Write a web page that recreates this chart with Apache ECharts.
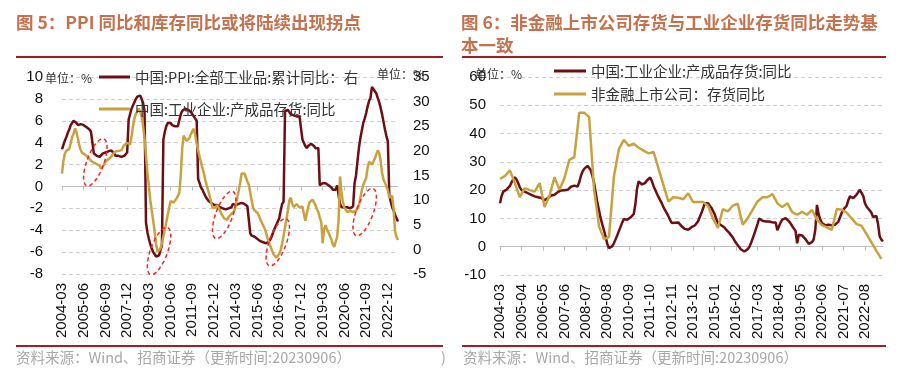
<!DOCTYPE html>
<html><head><meta charset="utf-8">
<script src="https://cdn.jsdelivr.net/npm/echarts@6/dist/echarts.min.js"></script>
<style>html,body{margin:0;padding:0;background:#fff}#c{width:907px;height:372px}</style>
</head><body><div id="c"></div>
<script>
// ---------- categories ----------
const startYear = 2004, startMonth = 3, monthCount = 233; // 2004-03 .. 2023-07
const months = [];
for (let k = 0; k < monthCount; k++) {
  const t = (startMonth - 1) + k;
  const y = startYear + Math.floor(t / 12), m = (t % 12) + 1;
  months.push(y + '-' + (m < 10 ? '0' + m : m));
}

// ---------- series values ----------
// 中国:PPI:全部工业品:累计同比 (%), monthly
const ppiCumYoY = [
  3.4,3.8,4.2,4.5,4.9,5.2,5.6,5.8,6.0,6.1,
  5.8,5.6,5.6,5.7,5.7,5.6,5.5,5.4,5.3,5.2,5.0,4.9,
  3.0,2.9,2.8,2.7,2.7,2.8,3.0,3.1,3.1,3.2,3.2,3.2,
  3.3,3.3,3.0,2.8,2.8,2.8,2.7,2.7,2.7,2.8,2.9,3.1,
  6.1,6.6,7.1,7.4,7.7,8.0,8.2,8.3,8.3,8.0,7.6,6.9,
  -3.3,-4.2,-4.8,-5.3,-5.7,-6.0,-6.2,-6.4,-6.4,-6.3,-5.8,-5.4,
  4.3,5.0,5.5,5.8,5.9,5.8,5.6,5.5,5.5,5.5,5.5,5.5,
  6.6,6.9,7.0,7.1,7.0,7.0,6.9,6.8,6.6,6.4,6.2,6.0,
  0.7,0.3,-0.1,-0.3,-0.6,-0.9,-1.1,-1.3,-1.4,-1.5,-1.6,-1.7,
  -1.6,-1.7,-1.8,-1.9,-1.9,-2.0,-2.1,-2.1,-2.0,-2.0,-1.9,-1.9,
  -1.6,-1.6,-1.7,-1.7,-1.6,-1.5,-1.5,-1.5,-1.6,-1.7,-1.8,-1.9,
  -4.3,-4.5,-4.6,-4.6,-4.7,-4.8,-4.9,-5.0,-5.1,-5.1,-5.2,-5.2,
  -5.3,-5.0,-4.8,-4.5,-4.1,-3.8,-3.5,-3.2,-2.9,-2.2,-1.6,-1.4,
  6.9,7.0,7.0,6.9,6.6,6.5,6.5,6.4,6.4,6.4,6.4,6.3,
  4.3,4.0,3.7,3.5,3.7,3.8,3.9,3.8,3.7,3.5,3.6,3.5,
  0.1,0.2,0.3,0.3,0.3,0.2,0.1,0.1,-0.1,-0.3,-0.3,-0.3,
  0.1,-0.8,-1.6,-1.9,-1.9,-1.9,-1.9,-1.9,-2.0,-2.0,-2.0,-1.8,
  0.3,1.0,2.3,3.5,4.4,5.1,5.8,6.2,6.7,7.3,7.8,8.1,
  9.1,8.9,8.7,8.5,8.1,7.7,7.2,6.6,5.9,5.2,4.6,4.1,
  -0.8,-1.4,-1.9,-2.2,-2.6,-2.9,-3.2
];
// 中国:工业企业:产成品存货:同比 (%), monthly
const industrialInvYoY = [
  15.4,18.0,19.5,20.0,20.2,20.4,21.5,22.8,23.5,24.6,23.8,22.5,
  21.0,20.1,19.6,19.5,19.2,18.9,18.7,18.3,18.0,17.8,17.6,17.5,
  17.3,17.2,17.0,16.4,16.6,17.2,17.8,18.1,18.3,18.4,18.8,19.3,
  19.6,19.9,20.0,20.0,20.1,20.1,20.7,21.2,21.5,21.6,21.2,21.3,
  22.8,25.0,26.6,27.5,28.0,28.6,28.0,27.0,25.0,22.5,19.0,15.5,
  12.8,10.0,7.8,5.8,3.5,1.0,-0.5,-0.2,0.2,1.2,2.6,4.0,
  5.5,7.0,8.5,9.8,9.6,9.5,9.6,10.3,10.8,11.5,15.0,20.5,
  23.1,22.8,22.0,21.9,22.6,23.4,24.0,24.5,23.2,21.5,20.1,18.8,
  17.6,16.5,15.4,14.0,12.9,11.9,10.8,9.5,8.4,8.0,8.5,9.0,
  8.6,8.0,7.2,6.8,6.3,6.0,6.0,6.6,6.9,7.2,7.5,7.8,
  9.0,10.5,11.9,13.5,15.4,15.6,15.4,14.6,13.8,13.1,11.5,9.8,
  8.4,7.9,7.6,7.4,6.8,6.0,5.4,4.8,4.2,3.3,2.2,1.3,
  0.6,-0.2,-1.0,-1.4,-1.7,-1.6,-0.9,-0.1,1.2,2.8,4.5,6.2,
  8.0,10.0,10.5,9.2,8.6,8.9,9.2,8.9,8.5,8.6,8.7,8.6,
  5.8,7.2,8.6,9.6,9.9,10.1,9.9,9.0,8.2,7.6,6.4,5.6,
  1.2,4.2,4.9,4.0,3.4,2.7,2.0,1.0,0.5,1.6,2.6,6.0,
  14.8,11.5,9.6,8.4,8.1,7.6,7.4,7.8,8.2,7.6,7.4,7.8,
  8.2,8.9,10.5,12.0,13.1,13.8,14.5,16.5,17.8,17.5,17.2,17.5,
  18.4,19.3,20.1,19.6,18.0,15.5,14.2,13.5,12.8,12.0,10.5,10.3,
  10.9,8.0,3.6,2.5,1.9
];
// 非金融上市公司：存货同比 (%), quarterly (Mar/Jun/Sep/Dec), 2004Q1 .. 2023Q2
const listedInvYoYQuarterly = [
  24,25,27,22.5,17.5,20.7,20,19.5,22.5,14,
  18,24.6,20.1,24.2,30.7,31.7,47.4,47.4,45.8,20.1,
  7.2,2.7,3.4,24.8,34.5,37.8,35.7,36.4,35,34,
  33,33.5,27.7,21.8,16,17.5,17.3,16.8,18.9,15.8,
  15.8,15.8,14.5,10,6.6,13.3,12.5,14.5,15.2,7.8,
  10,13,16,17.5,17.5,18.6,15.4,14,15.4,12.2,
  11.3,12.3,11.3,13,9.5,7.6,6.8,6,13.3,13.1,
  12,10,8,7.4,4.5,1.5,-1.5,-4.3
];
// annotation ellipses on the left chart (category, PPI-axis value)
const ellipseMarks = [['2006-02', 2.2], ['2009-10', -5.9], ['2013-07', -2.6], ['2016-08', -5.1], ['2021-08', -2.35]];

// quarterly values placed on the monthly category axis (nulls between quarters)
const listedInvMonthly = months.map(() => null);
listedInvYoYQuarterly.forEach((v, k) => { listedInvMonthly[k * 3] = v; });

// ---------- styles ----------
const MAROON = '#6d0e13', GOLD = '#c9a13f', RULE = '#a31d24', TITLE = '#c5714e';
const CJK = '"Noto Sans CJK SC", "Noto Sans", sans-serif';
const NUM = '"Liberation Sans", Arial, sans-serif';
const nameL1 = '中国:PPI:全部工业品:累计同比：右';
const nameL2 = '中国:工业企业:产成品存货:同比';
const nameR1 = '中国:工业企业:产成品存货:同比 ';
const nameR2 = '非金融上市公司：存货同比';

function labelAxis(gridIndex, interval) {
  return {
    type: 'category', gridIndex, data: months, boundaryGap: false, position: 'bottom',
    axisLine: { show: false, onZero: false }, axisTick: { show: false },
    axisLabel: { interval, rotate: 90, margin: 9, fontSize: 15, color: '#111', fontFamily: NUM }
  };
}
function zeroAxis(gridIndex, interval) {
  return {
    type: 'category', gridIndex, data: months, boundaryGap: false, position: 'top',
    axisLine: { show: true, onZero: true, lineStyle: { color: '#bfbfbf', width: 1 } },
    axisTick: { show: true, inside: true, interval, length: 4, lineStyle: { color: '#bfbfbf' } },
    axisLabel: { show: false }, splitLine: { show: false }
  };
}
const dashed = { show: true, lineStyle: { color: '#cfcfcf', type: [4, 3], width: 1 } };

const option = {
  animation: false,
  backgroundColor: '#fff',
  title: [
    { text: '图 5：PPI 同比和库存同比或将陆续出现拐点', left: 16, top: 11, padding: 0,
      textStyle: { color: TITLE, fontSize: 17.5, fontWeight: 'bold', fontFamily: CJK, lineHeight: 23 } },
    { text: '图 6：非金融上市公司存货与工业企业存货同比走势基\n本一致', left: 461, top: 11, padding: 0,
      textStyle: { color: TITLE, fontSize: 17.5, fontWeight: 'bold', fontFamily: CJK, lineHeight: 23 } }
  ],
  legend: [
    { orient: 'vertical', left: 99, top: 69, padding: 0, itemWidth: 31, itemHeight: 3, itemGap: 16, icon: 'rect',
      data: [nameL1, nameL2], selectedMode: false,
      textStyle: { fontSize: 14.5, color: '#333', fontFamily: CJK, lineHeight: 16 } },
    { orient: 'vertical', left: 554, top: 63, padding: 0, itemWidth: 32, itemHeight: 3, itemGap: 7, icon: 'rect',
      data: [nameR1, nameR2], selectedMode: false,
      textStyle: { fontSize: 14.5, color: '#333', fontFamily: CJK, lineHeight: 16 } }
  ],
  grid: [
    { left: 62, top: 77, width: 336, height: 197, containLabel: false },
    { left: 500, top: 77, width: 383, height: 198, containLabel: false }
  ],
  xAxis: [labelAxis(0, 14), zeroAxis(0, 14), labelAxis(1, 12), zeroAxis(1, 12)],
  yAxis: [
    { type: 'value', gridIndex: 0, min: -8, max: 10, interval: 2, position: 'left',
      axisLine: { show: false }, axisTick: { show: false }, splitLine: dashed,
      axisLabel: { margin: 19, fontSize: 15, color: '#111', fontFamily: NUM } },
    { type: 'value', gridIndex: 0, min: -5, max: 35, interval: 5, position: 'right',
      axisLine: { show: false }, axisTick: { show: false }, splitLine: { show: false },
      axisLabel: { margin: 15, fontSize: 15, color: '#111', fontFamily: NUM } },
    { type: 'value', gridIndex: 1, min: -10, max: 60, interval: 10, position: 'left',
      axisLine: { show: false }, axisTick: { show: false }, splitLine: dashed,
      axisLabel: { margin: 14, fontSize: 15, color: '#111', fontFamily: NUM } }
  ],
  series: [
    { name: nameL1, type: 'line', xAxisIndex: 0, yAxisIndex: 0, data: ppiCumYoY, showSymbol: false, symbol: 'none',
      color: MAROON, lineStyle: { color: MAROON, width: 2.5 }, z: 2 },
    { name: nameL2, type: 'line', xAxisIndex: 0, yAxisIndex: 1, data: industrialInvYoY, showSymbol: false, symbol: 'none',
      color: GOLD, lineStyle: { color: GOLD, width: 2.5 }, z: 3 },
    { name: nameR1, type: 'line', xAxisIndex: 2, yAxisIndex: 2, data: industrialInvYoY, showSymbol: false, symbol: 'none',
      color: MAROON, lineStyle: { color: MAROON, width: 2.5 }, z: 2 },
    { name: nameR2, type: 'line', xAxisIndex: 2, yAxisIndex: 2, data: listedInvMonthly, connectNulls: true, showSymbol: false, symbol: 'none',
      color: GOLD, lineStyle: { color: GOLD, width: 2.5 }, z: 3 }
  ]
};

const chart = echarts.init(document.getElementById('c'), null, { renderer: 'canvas' });
chart.setOption(option);

function txt(x, y, text, size, color, align) {
  return { type: 'text', x, y, silent: true, z: 50,
    style: { text, fill: color, fontSize: size, fontFamily: CJK, align: align || 'left', verticalAlign: 'middle' } };
}
function rule(x1, x2, y) {
  return { type: 'line', silent: true, z: 50, shape: { x1, y1: y, x2, y2: y }, style: { stroke: RULE, lineWidth: 2 } };
}
const src = '资料来源：Wind、招商证券（更新时间:20230906）';
const graphics = [
  rule(16, 443, 57), rule(462, 886, 57), rule(16, 443, 346), rule(462, 886, 346),
  txt(16, 357, src, 14.5, '#a8a8a8'), txt(441, 357, ')', 14.5, '#a8a8a8'), txt(463, 357, src, 14.5, '#a8a8a8'),
  txt(45, 78, '单位：%', 12, '#333'), txt(377, 74, '单位：%', 12, '#333'), txt(475, 74, '单位：%', 12, '#333')
];
ellipseMarks.forEach(([m, v]) => {
  const p = chart.convertToPixel({ xAxisIndex: 0, yAxisIndex: 0 }, [months.indexOf(m), v]);
  graphics.push({ type: 'ellipse', x: p[0], y: p[1], rotation: -0.35, silent: true, z: 60,
    shape: { cx: 0, cy: 0, rx: 8.5, ry: 25 },
    style: { fill: 'none', stroke: '#ff2020', lineWidth: 1.5, lineDash: [4, 3] } });
});
chart.setOption({ graphic: graphics });
</script>
</body></html>
